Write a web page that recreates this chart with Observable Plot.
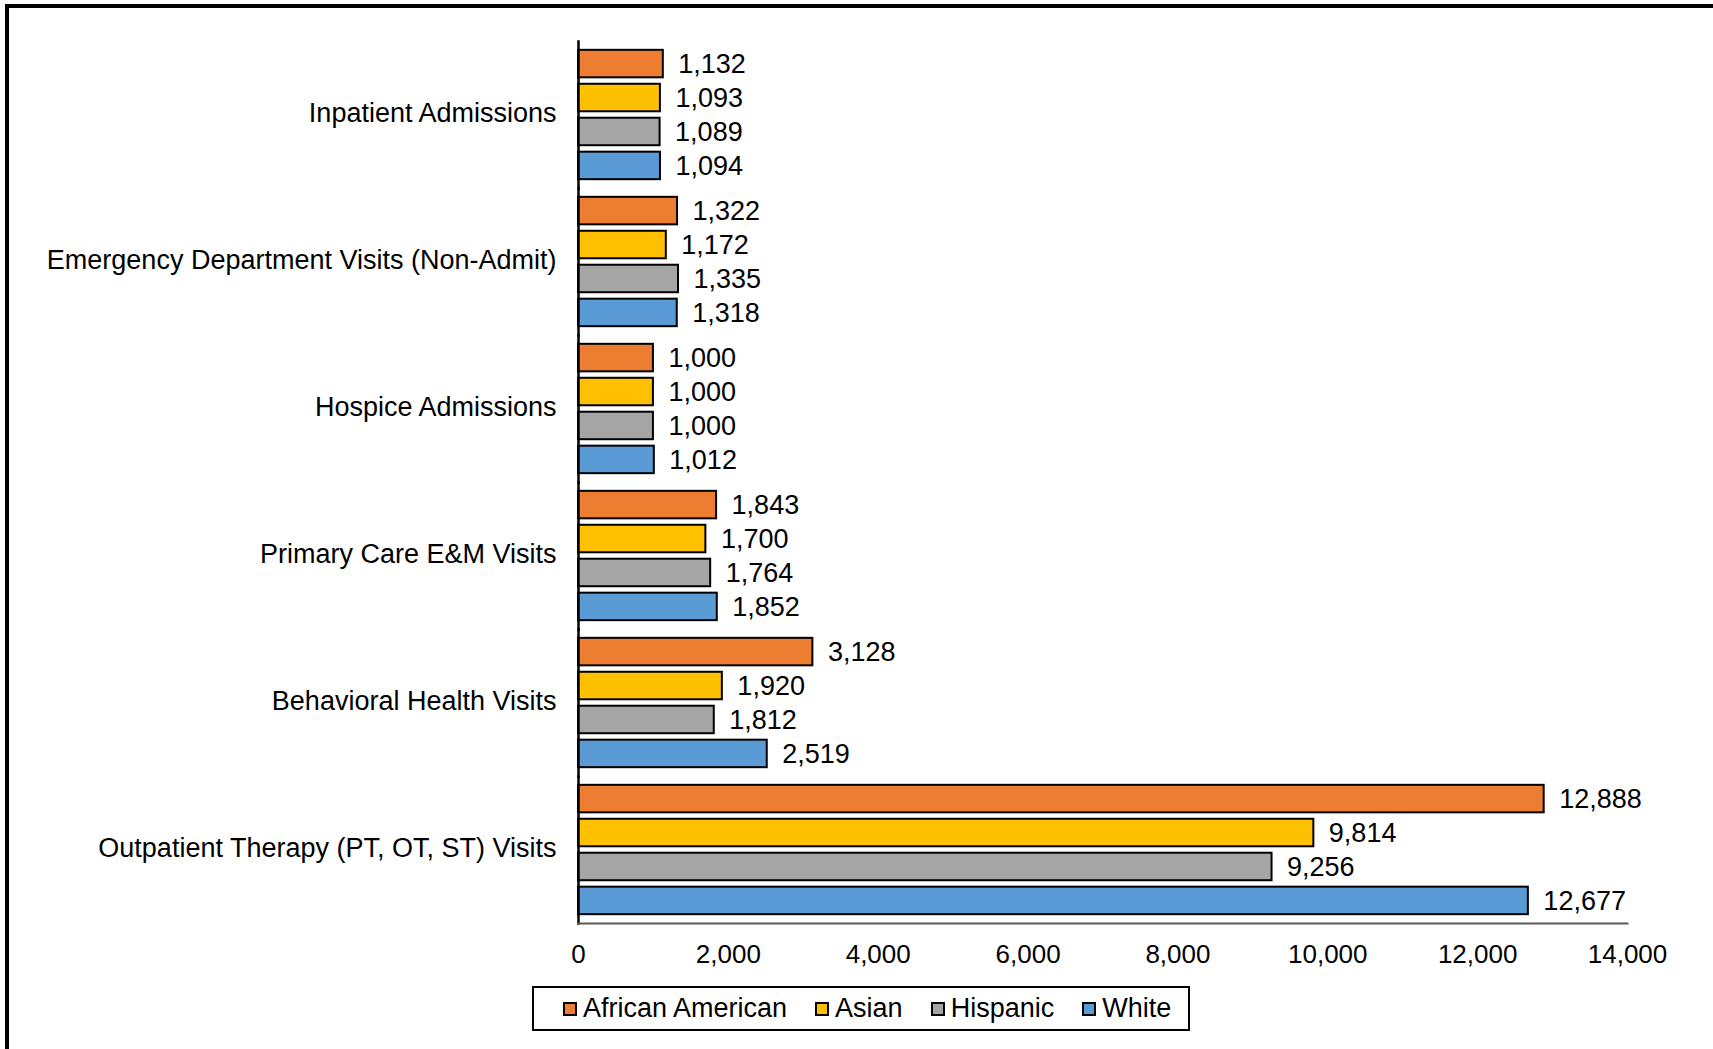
<!DOCTYPE html>
<html>
<head>
<meta charset="utf-8">
<script src="https://cdn.jsdelivr.net/npm/d3@7"></script>
<script src="https://cdn.jsdelivr.net/npm/@observablehq/plot@0.6"></script>
<style>
  html, body { margin: 0; padding: 0; background: #fff; }
  body { width: 1713px; height: 1049px; position: relative; overflow: hidden;
         font-family: "Liberation Sans", Arial, sans-serif; }
  #border { position: absolute; left: 5px; top: 4px; width: 1800px; height: 1200px;
            border-top: 4px solid #000; border-left: 4px solid #000; }
  #chart { position: absolute; left: 0; top: 0; }
  #legend { position: absolute; left: 532px; top: 986px; width: 625px; height: 41px;
            padding-left: 29px;
            border: 2px solid #000; display: flex; align-items: center; justify-content: flex-start;
            gap: 28px; font-size: 27px; color: #000; background: #fff; }
  .item { display: flex; align-items: center; gap: 6px; }
  .sw { width: 10px; height: 10px; border: 2px solid #000; }
</style>
</head>
<body>
<div id="border"></div>
<div id="chart"></div>
<div id="legend"></div>
<script>
const categories = [
  "Inpatient Admissions",
  "Emergency Department Visits (Non-Admit)",
  "Hospice Admissions",
  "Primary Care E&M Visits",
  "Behavioral Health Visits",
  "Outpatient Therapy (PT, OT, ST) Visits"
];
const races = ["African American", "Asian", "Hispanic", "White"];
const africanAmerican = [1132, 1322, 1000, 1843, 3128, 12888];
const asian = [1093, 1172, 1000, 1700, 1920, 9814];
const hispanic = [1089, 1335, 1000, 1764, 1812, 9256];
const white = [1094, 1318, 1012, 1852, 2519, 12677];
const colors = ["#ED7D31", "#FFC000", "#A5A5A5", "#5B9BD5"];
const xTicks = [0, 2000, 4000, 6000, 8000, 10000, 12000, 14000];

const series = [africanAmerican, asian, hispanic, white];
const data = [];
categories.forEach((c, i) => {
  races.forEach((r, j) => data.push({category: c, race: r, value: series[j][i]}));
});
const fmt = d3.format(",");

const H = 980;
const chart = Plot.plot({
  width: 1713,
  height: H,
  marginLeft: 578,
  marginRight: 86,
  marginTop: 40,
  marginBottom: H - 923,
  style: {fontSize: "26px", fontFamily: "'Liberation Sans', Arial, sans-serif", color: "#000", background: "transparent"},
  x: {domain: [0, 14000]},
  fy: {domain: categories, padding: 0},
  y: {domain: races, paddingInner: 0.19, paddingOuter: 0.26, round: false, axis: null},
  color: {domain: races, range: colors},
  marks: [
    Plot.barX(data, {x: "value", y: "race", fy: "category", fill: "race", stroke: "#000", strokeWidth: 2}),
    Plot.text(data, {x: "value", y: "race", fy: "category", text: d => fmt(d.value), textAnchor: "start", dx: 15, fill: "#000", fontSize: 27}),
    Plot.frame({anchor: "left", stroke: "#000", strokeWidth: 2.5}),
    Plot.frame({anchor: "bottom", facetAnchor: "bottom", stroke: "#595959", strokeWidth: 2}),
    Plot.axisX({ticks: xTicks, tickFormat: fmt, tickSize: 0, tickPadding: 21, label: null, fontSize: 26}),
    Plot.axisFy({anchor: "left", tickSize: 0, tickPadding: 22, label: null, fontSize: 27, dy: -2})
  ]
});
document.getElementById("chart").appendChild(chart);

const legend = document.getElementById("legend");
races.forEach((r, i) => {
  const it = document.createElement("div");
  it.className = "item";
  const sw = document.createElement("div");
  sw.className = "sw";
  sw.style.background = colors[i];
  const t = document.createElement("span");
  t.textContent = r;
  it.appendChild(sw); it.appendChild(t);
  legend.appendChild(it);
});
</script>
</body>
</html>
